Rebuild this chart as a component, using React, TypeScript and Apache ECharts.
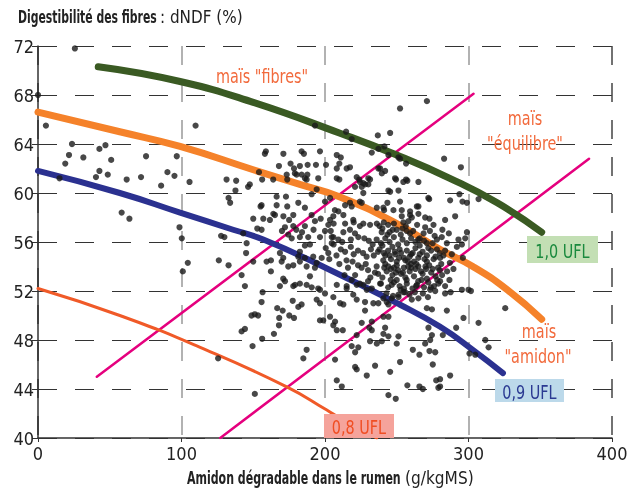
import React, { useEffect, useRef } from "react";
import * as echarts from "echarts";

const FONT = "'Liberation Sans Narrow', 'DejaVu Sans Condensed', 'Arial Narrow', sans-serif";

const xTicks = [0, 100, 200, 300, 400];
const yTicks = [40, 44, 48, 52, 56, 60, 64, 68, 72];

// iso-lines (x: amidon g/kgMS, y: dNDF %)
const ufl10Curve = [[42, 70.3], [99, 69.1], [150, 67.4], [210, 64.9], [250, 63.1], [287, 61.2], [320, 59.2], [351, 56.8]];
const midCurve = [[0, 66.6], [57, 65.0], [99, 63.8], [150, 61.9], [182.5, 60.7], [210, 59.7], [250, 57.5], [280, 55.4], [303, 54.0], [327, 52.1], [351, 49.7]];
const ufl09Curve = [[0, 61.8], [57, 60.0], [99, 58.4], [136, 57.0], [157, 56.2], [198.5, 54.0], [252, 50.9], [280, 49.1], [303, 47.2], [324, 45.3]];
const ufl08Curve = [[0, 52.2], [57, 50.0], [113, 47.4], [173, 44.2], [201, 42.3], [208, 41.8], [236, 40]];
const fibreBoundary = [[41, 45.0], [303.5, 68.1]];
const starchBoundary = [[127, 40], [384, 62.8]];

// samples: left part
const samplesLeft = [
  [0, 68], [25.7, 71.8], [5.5, 65.5], [23.7, 64.0], [21.6, 63.1], [19, 62.4], [15, 61.2], [31.6, 62.9], [42.8, 63.6], [47, 63.9],
  [51, 62.7], [42.8, 61.8], [40.4, 61.3], [48.6, 61.5], [61.8, 61.1], [71.8, 61.3], [75.3, 63.0], [85.8, 60.6], [90.2, 61.7], [95.1, 61.4],
  [96.7, 63.0], [105.6, 60.9], [109.8, 65.5], [58.3, 58.4], [63.7, 57.9], [98.6, 57.2], [100.2, 56.3], [104.4, 54.3], [100.9, 53.6], [126, 54.5],
  [132.8, 54.1], [127.6, 56.5], [129.9, 56.4], [131.4, 61.1], [138.1, 61.0], [137.6, 60.2], [132.8, 59.6], [133.9, 59.2], [125.5, 46.5], [143, 56.7],
];

// samples: upper middle
const samplesUpper = [
  [193, 65.5], [147.6, 60.7], [146.4, 60.5], [154, 61.7], [156.2, 61.1], [158.8, 63.4], [158.1, 63.2], [155.8, 59.0], [155.1, 58.9], [150, 57.9],
  [152.8, 57.1], [157, 57.9], [166.3, 59.7], [166.3, 59.0], [167.9, 62.2], [171, 63.2], [163.9, 61.1], [173.3, 61.5], [173.7, 61.1], [172.8, 59.7],
  [173.7, 58.9], [171, 58.1], [172.1, 57.2], [176, 62.4], [178.4, 62.0], [180.2, 61.5], [179, 61.6], [183.7, 61.5], [186, 61.2], [187.7, 61.5],
  [187.2, 61.1], [182.5, 62.2], [183.7, 63.4], [185.3, 63.2], [187.9, 62.3], [196.5, 63.4], [193.7, 62.3], [195.3, 61.2], [200.7, 62.3], [194.2, 60.3],
  [190.7, 59.9], [181.4, 59.2], [186, 58.8], [177.9, 58.2], [190.7, 58.2], [193, 57.7], [186, 57.3], [177.9, 57.3], [182.5, 56.4], [188.3, 56.4],
  [196.5, 56.4], [204.7, 56.4], [208.2, 63.1], [208.2, 62.0], [202.3, 57.4], [164, 58.3], [165.1, 58.2], [161.6, 57.8], [155.8, 57.0], [175, 57.8],
  [180, 57.0], [184, 56.8], [192, 57.0], [197, 57.9], [200, 56.9], [206, 57.5], [170, 56.9],
  [252.3, 66.9], [271, 67.5], [214.7, 65.0], [218.6, 64.4], [236.8, 64.7], [245.4, 64.9], [232.6, 63.3], [237.2, 63.6], [241.4, 63.8], [244.2, 63.1],
  [252.3, 62.8], [256.5, 62.4], [283, 62.8], [211, 62.9], [210, 62.4], [215.1, 62.0], [217.4, 62.1], [238.4, 62.0], [241.9, 61.8], [210, 61.1],
  [223.9, 61.1], [231.4, 61.1], [230.2, 60.7], [249.5, 61.1], [254.6, 60.9], [256.5, 61.1], [265.1, 60.9], [244.2, 60.2], [251.2, 60.2], [203.5, 59.6],
  [200, 59.3], [217.4, 59.2], [224.3, 59.3], [225.6, 60.5], [226.7, 60.0], [236.1, 58.8], [241.2, 58.6], [243.5, 59.2], [252.3, 59.3], [253.5, 58.6],
  [259.3, 58.2], [265.1, 58.9], [272, 59.6], [269.8, 57.2], [275.6, 57.4], [283.7, 57.8], [259.3, 56.7], [265.1, 56.2], [271, 55.9], [205.8, 58.1],
  [212.8, 58.2], [219.7, 57.8], [226.7, 57.5], [231.4, 57.4], [236.1, 57.5], [294.7, 62.1], [295.8, 59.3], [307, 59.5],
];

// samples: dense core
const samplesCore = [
  [208.2, 61.2], [222.1, 61.3], [224.4, 60.9], [226.7, 60.8], [230.2, 61.2], [220.9, 60.5], [228, 60.7], [237.2, 62.0], [239.6, 61.6], [248.8, 61.2],
  [257.4, 61.0], [251.2, 62.9], [245.4, 60.1], [272.6, 59.5], [287.2, 59.4], [293.7, 59.9], [264, 58.9], [265.1, 58.3], [259.3, 58.5], [260.5, 58.0],
  [240.7, 58.8], [247.7, 58.6], [253.5, 58.1], [258.1, 57.7], [254.6, 57.6], [269.8, 58.0], [272.8, 57.9], [290.7, 58.1], [225.6, 59.2], [214, 59.0],
  [218.6, 58.9], [206.9, 58.6], [209.3, 58.5], [203.5, 57.8], [214, 57.5], [220, 57.6], [224.3, 57.3], [238, 57.3], [241, 57.6], [244, 57.4],
  [248, 57.5], [240, 57.1], [245, 56.8], [250, 57.0], [254, 57.1], [257, 56.9], [212.8, 56.8], [217.4, 57.0], [220.9, 56.7], [223.2, 56.4],
  [205.8, 56.4], [209.3, 56.2], [204.7, 55.9], [211, 55.4], [214, 55.2], [218, 55.6], [220, 55.0], [223, 55.3], [226.5, 55.1], [229, 54.8],
  [232, 55.4], [234, 54.9], [237, 55.2], [240, 55.7], [242, 54.9], [244, 55.3], [247, 55.6], [249, 55.0], [252, 55.4], [255, 54.7],
  [257, 55.3], [260, 55.0], [263, 55.5], [266, 55.0], [210, 54.2], [216, 53.9], [223, 54.1], [230, 53.7], [236, 54.0], [242, 54.2],
  [246, 53.8], [250, 54.1], [255, 53.9], [260, 54.2], [265, 54.0], [271, 54.4], [275, 53.8], [281, 54.2], [287, 54.3], [278, 56.2],
  [281.4, 56.4], [284.9, 55.9], [283.7, 55.3], [293, 56.2], [291.9, 55.6], [295.4, 55.8], [297.7, 56.3], [298.9, 56.8], [298.9, 59.2], [236, 56.2],
  [239, 55.9], [242, 56.3], [245, 56.0], [248, 56.4], [251, 55.8], [254, 56.2], [257, 55.9], [260, 56.3], [263, 56.0], [266, 55.7],
  [269, 56.1], [272, 55.5], [275, 55.9], [278, 55.4], [238, 55.4], [241, 55.1], [246, 54.6], [250, 54.4], [253, 55.1], [256, 54.5],
  [259, 54.8], [262, 54.4], [265, 54.7], [268, 55.2], [271, 54.9], [274, 55.3], [277, 54.8], [280, 55.1], [237, 53.4], [240, 53.1],
  [243, 53.6], [247, 53.3], [250, 52.9], [253, 53.4], [256, 53.1], [259, 53.6], [262, 53.2], [265, 52.8], [268, 53.4], [271, 53.0],
  [274, 53.5], [277, 53.2], [280, 53.7], [239, 52.6], [244, 52.3], [248, 52.7], [252, 52.4], [257, 52.6], [261, 52.2], [264, 52.5],
  [269, 52.3], [272, 52.7], [276, 52.4], [245, 54.9], [258, 54.0], [270, 54.0], [263, 53.8], [248, 53.9], [255, 52.2], [266, 56.3],
  [251, 53.7], [200.5, 55.5], [203, 54.6], [206, 55.8], [208, 54.9], [212, 56.0], [215, 54.5], [218, 56.2], [204, 56.9],
];

// samples: densest cluster
const samplesCluster = [
  [239.5, 56.8], [243.5, 56.6], [247.2, 57.0], [252.8, 56.6], [256.3, 57.3], [261.4, 56.9], [264.2, 57.4], [268.7, 56.7], [273.1, 56.9], [276.4, 56.5],
  [281.8, 57.0], [286.3, 56.7], [240.6, 54.5], [244.1, 54.0], [248.7, 55.2], [251.6, 54.7], [254.3, 53.5], [257.8, 54.4], [261.1, 55.1], [263.7, 54.2],
  [266.9, 53.6], [269.4, 54.6], [272.6, 54.1], [275.7, 54.6], [278.8, 53.9], [282.5, 54.9], [285.1, 53.6], [288.4, 55.0], [241.3, 53.9], [245.8, 52.9],
  [249.4, 53.5], [252.7, 52.1], [256.9, 52.9], [260.2, 53.9], [263.5, 52.4], [267.3, 52.9], [270.4, 53.8], [273.8, 52.3], [278.2, 52.9], [281.6, 53.3],
  [286.7, 52.9], [289.5, 53.8], [242.8, 51.8], [247.4, 51.6], [254.8, 51.9], [258.9, 51.7], [262.6, 51.9], [268.2, 51.8], [271.7, 51.5], [287.5, 51.9],
  [230.5, 56.1], [233.2, 55.8], [227.4, 56.3], [231.6, 53.1], [234.8, 53.5], [228.4, 54.2], [225.5, 53.9], [219.2, 54.4], [213.6, 53.3], [230, 52.8],
];

// samples: lower part
const samplesLower = [
  [208.2, 52.5], [205.8, 51.5], [210.5, 51.0], [212.8, 50.9], [215.1, 52.4], [218.6, 52.9], [219.7, 51.7], [222.1, 51.3], [221, 53.3], [226.7, 52.5],
  [227.9, 51.1], [233.7, 51.0], [227.9, 50.4], [240.7, 51.4], [244.2, 50.9], [246.5, 52.5], [251.2, 51.7], [255.8, 51.9], [260.5, 51.3], [265.1, 51.4],
  [271, 50.6], [274.5, 50.5], [273.3, 52.1], [276.8, 52.0], [279, 52.6], [283.7, 52.4], [283.7, 51.8], [284.9, 50.4], [295.4, 52.1], [300, 52.1],
  [301.7, 52.0], [296.5, 49.8], [307, 49.4], [291.4, 49.0], [311.7, 48.0], [314, 47.4], [300.7, 46.9], [304.7, 46.8], [203.5, 49.9], [207, 49.5],
  [205.8, 49.2], [212.4, 48.8], [225.6, 49.4], [230.9, 49.0], [232.6, 48.8], [232.6, 49.5], [240.7, 49.9], [244.2, 49.9], [241.9, 49.0], [240.7, 48.5],
  [244.2, 48.3], [239.6, 47.9], [236.1, 47.7], [231.4, 47.9], [250, 47.7], [251.2, 48.3], [222.1, 48.4], [218.6, 47.5], [223.2, 47.4], [221, 47.0],
  [222.1, 45.6], [221, 45.8], [207, 46.4], [208.2, 44.7], [211.7, 44.2], [229.1, 45.1], [234.9, 45.9], [245.4, 45.4], [252.3, 46.2], [244.2, 43.5],
  [249.3, 43.2], [257.4, 44.3], [265.8, 44.2], [268.2, 44.0], [279, 44.1], [277.5, 44.7], [280.2, 44.8], [287.2, 45.1], [275.1, 46.0], [261.2, 47.2],
  [265.8, 46.8], [272.8, 47.1], [276.8, 47.0], [269.8, 47.7], [273.3, 48.0], [274.5, 48.4], [272.1, 49.0], [282.1, 48.4], [280.2, 54.7], [296.1, 54.7],
  [280.2, 52.8], [325.6, 50.6], [280.2, 44.2],
  [145.4, 55.9], [145, 55.1], [150, 54.4], [162.3, 54.5], [159.3, 54.4], [162.3, 53.6], [141.9, 53.3], [144.2, 52.4], [156.5, 51.9], [155.8, 51.1],
  [148.8, 50.0], [151.1, 50.1], [153.4, 50.0], [141.9, 48.7], [144.2, 48.9], [149.5, 47.5], [156.2, 48.1], [164.4, 48.5], [167.9, 49.2], [168.1, 49.8],
  [166.7, 50.6], [170.5, 50.4], [175.1, 50.0], [178.4, 49.8], [177.5, 51.2], [183.7, 50.9], [181.4, 50.7], [170.9, 53.0], [172.1, 52.8], [168.6, 52.4],
  [177.9, 52.4], [179.1, 52.5], [174.4, 54.0], [170.9, 54.7], [169.8, 54.4], [177.9, 54.1], [182.5, 54.4], [187.2, 54.0], [186, 54.7], [189.5, 53.2],
  [195.3, 52.2], [196.5, 52.1], [194.2, 51.3], [187.2, 52.5], [182.5, 52.6], [190.7, 52.3], [200, 51.8], [196.5, 51.0], [198.8, 49.6], [196.5, 49.6],
  [187.2, 47.2], [184.9, 46.5], [151.1, 43.6], [174.4, 56.6], [176.8, 56.3], [186, 55.7], [182.5, 55.2], [189.5, 55.8], [181.4, 54.8], [168.6, 55.1],
  [191.8, 54.8], [194.2, 54.3], [193, 53.9], [197.7, 54.7], [202.3, 55.1], [215.1, 52.2], [222.1, 52.5], [224.4, 52.6], [229.1, 52.1], [232.6, 52.2],
  [238.4, 52.6], [237.2, 51.0], [243, 51.1], [246.5, 51.4], [251.2, 51.5], [208.2, 48.8],
];

const samples = [...samplesLeft, ...samplesUpper, ...samplesCore, ...samplesCluster, ...samplesLower];

function lineSeries(data: number[][], color: string, width: number, smooth: boolean) {
  return {
    type: "line",
    data,
    showSymbol: false,
    smooth,
    lineStyle: { color, width, cap: "round" },
    silent: true,
    z: 3,
  };
}

const LABEL_SCALE = 0.82;
const LABEL_SIZE = 19.5;

function labelBox(x: number, y: number, w: number, h: number, fill: string, text: string, color: string) {
  return [
    { type: "rect", z: 100, shape: { x, y, width: w, height: h }, style: { fill } },
    {
      type: "text", z: 101, x: x + w / 2, y: y + h / 2 + 1, scaleX: LABEL_SCALE,
      style: { text, fill: color, fontSize: LABEL_SIZE, fontFamily: FONT, align: "center", verticalAlign: "middle" },
    },
  ];
}

function plainText(x: number, y: number, text: string, color: string) {
  return {
    type: "text", z: 101, x, y, scaleX: LABEL_SCALE,
    style: { text, fill: color, fontSize: LABEL_SIZE, fontFamily: FONT, align: "center", verticalAlign: "middle" },
  };
}

export default function App() {
  const ref = useRef<HTMLDivElement>(null);
  useEffect(() => {
    if (!ref.current) return;
    const chart = echarts.init(ref.current, null, { renderer: "svg" });
    const orange = "#f26a3c";
    chart.setOption({
      animation: false,
      grid: { left: 38, right: 26, top: 46, bottom: 54 },
      xAxis: {
        type: "value", min: xTicks[0], max: xTicks[xTicks.length - 1], interval: 100,
        axisLine: { show: true, onZero: false, lineStyle: { color: "#333", width: 1.5 } },
        axisTick: { show: true, length: 4, lineStyle: { color: "#333" } },
        axisLabel: { color: "#222", fontSize: 18, fontFamily: FONT, margin: 6 },
        splitLine: { show: true, lineStyle: { color: ["#333", "#999", "#999", "#999", "#444"], width: 1.5, type: [19, 18] } },
      },
      yAxis: {
        type: "value", min: yTicks[0], max: yTicks[yTicks.length - 1], interval: 4,
        axisLine: { show: true, onZero: false, lineStyle: { color: "#333", width: 1.5 } },
        axisTick: { show: true, length: 6, lineStyle: { color: "#333" } },
        axisLabel: { color: "#222", fontSize: 18, fontFamily: FONT, margin: 4 },
        splitLine: { show: true, lineStyle: { color: "#333", width: 1.2, type: [19, 18] } },
      },
      series: [
        lineSeries(fibreBoundary, "#e5007e", 2.5, false),
        lineSeries(starchBoundary, "#e5007e", 2.5, false),
        lineSeries(ufl08Curve, "#f05a28", 3, true),
        lineSeries(ufl09Curve, "#2b3190", 6, true),
        lineSeries(midCurve, "#f5822a", 7, true),
        lineSeries(ufl10Curve, "#3a5a23", 7, true),
        {
          type: "scatter", data: samples, symbolSize: 6.2, silent: true, z: 5,
          itemStyle: { color: "#1a1a1a" },
        },
      ],
      graphic: [
        {
          type: "text", x: 18, y: 17, z: 101, scaleX: 0.67,
          style: {
            text: "Digestibilité des fibres", fill: "#222", fontSize: 18, fontWeight: "bold",
            fontFamily: FONT, align: "left", verticalAlign: "middle",
          },
        },
        {
          type: "text", x: 160, y: 17, z: 101, scaleX: 0.94,
          style: {
            text: ": dNDF (%)", fill: "#222", fontSize: 18,
            fontFamily: FONT, align: "left", verticalAlign: "middle",
          },
        },
        {
          type: "text", x: 187, y: 478, z: 101, scaleX: 0.68,
          style: {
            text: "Amidon dégradable dans le rumen", fill: "#222", fontSize: 18, fontWeight: "bold",
            fontFamily: FONT, align: "left", verticalAlign: "middle",
          },
        },
        {
          type: "text", x: 405, y: 478, z: 101, scaleX: 0.95,
          style: {
            text: "(g/kgMS)", fill: "#222", fontSize: 18,
            fontFamily: FONT, align: "left", verticalAlign: "middle",
          },
        },
        plainText(262, 76, "maïs \"fibres\"", orange),
        plainText(525, 118, "maïs", orange),
        plainText(525, 143, "\"équilibre\"", orange),
        plainText(539, 331, "maïs", orange),
        plainText(538, 356, "\"amidon\"", orange),
        ...labelBox(527, 236, 71, 27, "#c3dfb4", "1,0 UFL", "#1b8a3e"),
        ...labelBox(495, 379, 69, 23, "#bcd9ea", "0,9 UFL", "#2b3a92"),
        ...labelBox(324, 414, 70, 24, "#f5a39b", "0,8 UFL", "#f04e23"),
      ],
    });
    return () => chart.dispose();
  }, []);
  return <div ref={ref} style={{ position: "fixed", left: 0, top: 0, width: 638, height: 492 }} />;
}
